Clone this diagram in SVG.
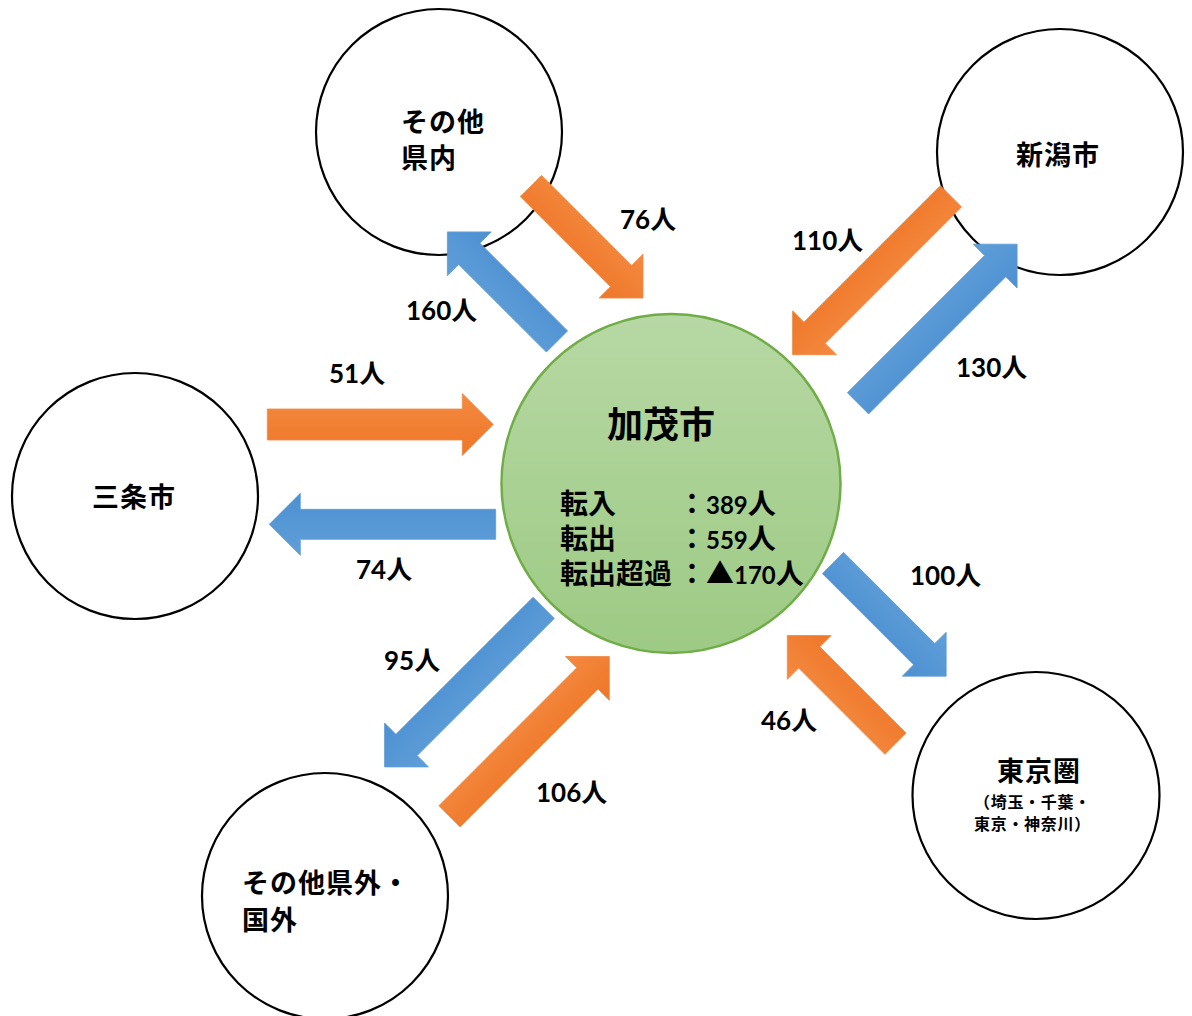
<svg xmlns="http://www.w3.org/2000/svg" width="1192" height="1016" viewBox="0 0 1192 1016">
<defs>
<linearGradient id="gGreen" x1="0" y1="0" x2="0" y2="1">
<stop offset="0" stop-color="#b7d8a4"/>
<stop offset="1" stop-color="#9dca84"/>
</linearGradient>
<linearGradient id="gOrange" x1="0" y1="0" x2="0" y2="1">
<stop offset="0" stop-color="#f48a40"/>
<stop offset="1" stop-color="#ee7628"/>
</linearGradient>
<linearGradient id="gBlue" x1="0" y1="0" x2="0" y2="1">
<stop offset="0" stop-color="#5f9fd9"/>
<stop offset="1" stop-color="#4d8fd1"/>
</linearGradient>
<style>
.node{fill:#ffffff;stroke:#000000;stroke-width:2.2}
.center{fill:url(#gGreen);stroke:#70ad47;stroke-width:2.5}
.o{fill:url(#gOrange);stroke:#f08a45;stroke-width:0.8}
.b{fill:url(#gBlue);stroke:#5d9cd6;stroke-width:0.8}
.nm{font-family:"Noto Sans CJK JP","Noto Sans CJK SC",sans-serif;font-weight:700;font-size:27px;letter-spacing:1px;fill:#000}
.sub{font-family:"Noto Sans CJK JP","Noto Sans CJK SC",sans-serif;font-weight:700;font-size:16px;letter-spacing:0.7px;fill:#000}
.lbl{font-family:Lato,"Noto Sans CJK JP",sans-serif;font-weight:700;font-size:26px;fill:#000}
.ct{font-family:"Noto Sans CJK JP","Noto Sans CJK SC",sans-serif;font-weight:700;font-size:28px;fill:#000}
.dg{font-family:Lato,"Noto Sans CJK JP",sans-serif;font-size:24px}
.title{font-family:"Noto Sans CJK JP","Noto Sans CJK SC",sans-serif;font-weight:700;font-size:36px;fill:#000}
</style>
</defs>
<rect width="1192" height="1016" fill="#ffffff"/>

<g id="node-kamo">
<circle class="center" cx="671" cy="483.5" r="169.5"/>
</g>
<g id="node-sonota-kennai">
<circle class="node" cx="439" cy="132" r="123"/>
<text class="nm" x="401" y="132">その他</text>
<text class="nm" x="401" y="168">県内</text>
</g>
<g id="node-sanjo">
<circle class="node" cx="135" cy="496" r="123"/>
<text class="nm" x="92" y="507">三条市</text>
</g>
<g id="node-niigata">
<circle class="node" cx="1060" cy="152" r="123"/>
<text class="nm" x="1016" y="165">新潟市</text>
</g>
<g id="node-tokyo">
<circle class="node" cx="1036" cy="795.5" r="123.5"/>
<text class="nm" x="997" y="781">東京圏</text>
<text class="sub" x="974" y="808">（埼玉・千葉・</text>
<text class="sub" x="974" y="830">東京・神奈川）</text>
</g>
<g id="node-sonota-kengai">
<circle class="node" cx="325" cy="896" r="123"/>
<text class="nm" x="242" y="893">その他県外・</text>
<text class="nm" x="242" y="929.5">国外</text>
</g>

<g id="connectors">
<polygon class="o" transform="translate(531,186) rotate(45)" points="0,-15 127.4,-15 127.4,-31 158.4,0 127.4,31 127.4,15 0,15"/>
<polygon class="b" transform="translate(557,341.5) rotate(225)" points="0,-15 124,-15 124,-31 155,0 124,31 124,15 0,15"/>
<polygon class="o" transform="translate(267.3,424.5) rotate(0)" points="0,-15.5 195,-15.5 195,-31 226,0 195,31 195,15.5 0,15.5"/>
<polygon class="b" transform="translate(495.7,524.3) rotate(180)" points="0,-15 195.4,-15 195.4,-31 226.4,0 195.4,31 195.4,15 0,15"/>
<polygon class="o" transform="translate(951,196.3) rotate(135)" points="0,-15 193,-15 193,-31 224,0 193,31 193,15 0,15"/>
<polygon class="b" transform="translate(858,403.3) rotate(-45)" points="0,-15 194,-15 194,-31 225,0 194,31 194,15 0,15"/>
<polygon class="b" transform="translate(543.7,607.8) rotate(135)" points="0,-15 194,-15 194,-31 225,0 194,31 194,15 0,15"/>
<polygon class="o" transform="translate(449.5,816.3) rotate(-45)" points="0,-15 195,-15 195,-31 226,0 195,31 195,15 0,15"/>
<polygon class="b" transform="translate(833,563) rotate(45)" points="0,-15 129,-15 129,-31 160,0 129,31 129,15 0,15"/>
<polygon class="o" transform="translate(895.5,743.7) rotate(225)" points="0,-15 122,-15 122,-31 153,0 122,31 122,15 0,15"/>
</g>

<g id="labels">
<text class="lbl" x="620" y="228.5">76人</text>
<text class="lbl" x="406" y="320">160人</text>
<text class="lbl" x="329" y="383">51人</text>
<text class="lbl" x="356" y="579">74人</text>
<text class="lbl" x="792" y="250">110人</text>
<text class="lbl" x="956" y="377">130人</text>
<text class="lbl" x="910" y="585">100人</text>
<text class="lbl" x="761" y="730">46人</text>
<text class="lbl" x="384" y="670">95人</text>
<text class="lbl" x="536" y="802">106人</text>
</g>

<g id="kamo-text">
<text class="title" x="607" y="438">加茂市</text>
<text class="ct" x="560" y="514">転入</text>
<text class="ct" x="678" y="514">：<tspan class="dg">389</tspan>人</text>
<text class="ct" x="560" y="549">転出</text>
<text class="ct" x="678" y="549">：<tspan class="dg">559</tspan>人</text>
<text class="ct" x="560" y="584">転出超過</text>
<text class="ct" x="678" y="584">：▲<tspan class="dg">170</tspan>人</text>
</g>
</svg>
